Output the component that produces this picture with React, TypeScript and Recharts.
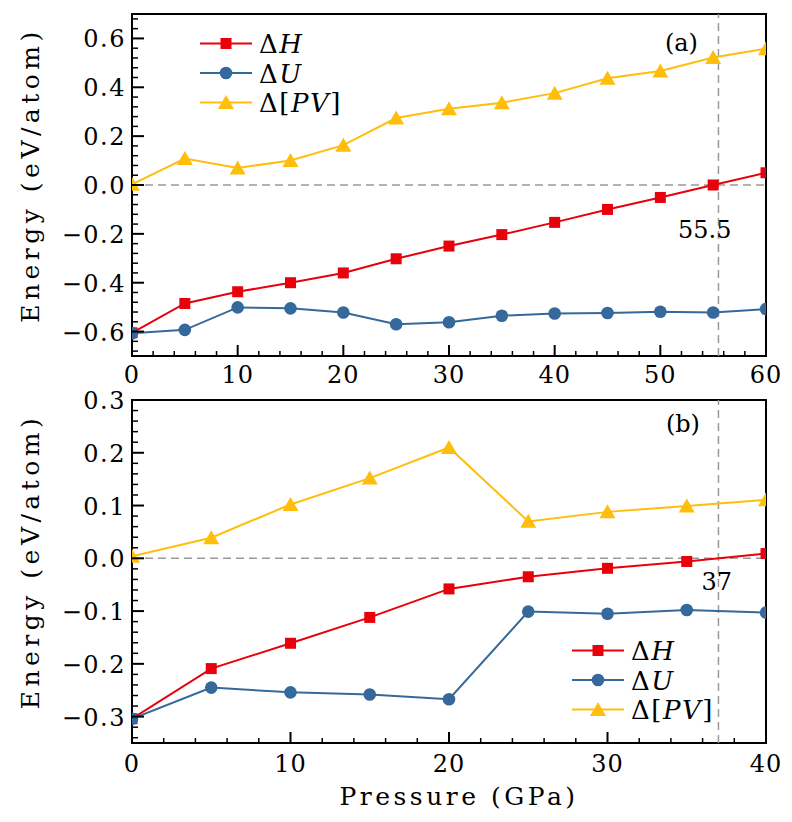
import { Legend, Line, LineChart, ReferenceArea, ReferenceDot, ReferenceLine, XAxis, YAxis } from "recharts";

// panel (a)
const pressureA = [0, 5, 10, 15, 20, 25, 30, 35, 40, 45, 50, 55, 60];
const dHa = [-0.605, -0.485, -0.437, -0.4, -0.36, -0.302, -0.25, -0.203, -0.153, -0.1, -0.051, 0.0, 0.05];
const dUa = [-0.607, -0.593, -0.501, -0.505, -0.522, -0.57, -0.562, -0.535, -0.526, -0.524, -0.519, -0.522, -0.508];
const dPVa = [0.003, 0.108, 0.07, 0.1, 0.163, 0.274, 0.312, 0.337, 0.376, 0.437, 0.467, 0.522, 0.558];

// panel (b)
const pressureB = [0, 5, 10, 15, 20, 25, 30, 35, 40];
const dHb = [-0.304, -0.209, -0.161, -0.112, -0.058, -0.035, -0.019, -0.006, 0.009];
const dUb = [-0.304, -0.245, -0.254, -0.258, -0.267, -0.101, -0.105, -0.098, -0.103];
const dPVb = [0.004, 0.039, 0.102, 0.152, 0.21, 0.07, 0.088, 0.099, 0.111];

const xMajorA = [0, 10, 20, 30, 40, 50, 60];
const xMajorB = [0, 10, 20, 30, 40];
const yMajorA = [-0.6, -0.4, -0.2, 0.0, 0.2, 0.4, 0.6];
const yMajorB = [-0.3, -0.2, -0.1, 0.0, 0.1, 0.2, 0.3];

const RED = "#e8000b";
const BLUE = "#35689b";
const YELLOW = "#ffbe0b";
const FONT = "DejaVu Serif";

const series = [
  { key: "dH", color: RED, kind: "square", label: [["Δ", false], ["H", true]] },
  { key: "dU", color: BLUE, kind: "circle", label: [["Δ", false], ["U", true]] },
  { key: "dPV", color: YELLOW, kind: "triangle", label: [["Δ[", false], ["PV", true], ["]", false]] },
];

const tableA = pressureA.map((p, i) => ({ p, dH: dHa[i], dU: dUa[i], dPV: dPVa[i] }));
const tableB = pressureB.map((p, i) => ({ p, dH: dHb[i], dU: dUb[i], dPV: dPVb[i] }));

// minor ticks between the majors
const withMinor = (major: number[], n: number, lo: number, hi: number) => {
  const step = (major[1] - major[0]) / n;
  const out: number[] = [];
  const k0 = Math.ceil((lo - major[0]) / step - 1e-6);
  const k1 = Math.floor((hi - major[0]) / step + 1e-6);
  for (let k = k0; k <= k1; k++) out.push(+(major[0] + k * step).toFixed(4));
  return out;
};

const isMajor = (v: number, list: number[]) => list.some((m) => Math.abs(m - v) < 1e-6);
const fmtY = (v: number) => (v < -1e-9 ? "\u2212" : "") + Math.abs(v).toFixed(1);

const Marker = ({ cx, cy, kind, color }: any) => {
  if (cx == null || cy == null) return <g />;
  if (kind === "square") return <rect x={cx - 5.5} y={cy - 5.5} width={11} height={11} fill={color} />;
  if (kind === "circle") return <circle cx={cx} cy={cy} r={6.3} fill={color} />;
  return <polygon points={`${cx},${cy - 7.5} ${cx - 8},${cy + 6.5} ${cx + 8},${cy + 6.5}`} fill={color} />;
};

const YTick = ({ x, y, payload, majors }: any) => {
  const v = payload.value;
  const major = isMajor(v, majors);
  return (
    <g>
      <line x1={x} x2={x + (major ? 12 : 6)} y1={y} y2={y} stroke="#000" strokeWidth={major ? 2 : 1.5} />
      {major && (
        <text x={x - 6} y={y + 9} textAnchor="end" fontFamily={FONT} fontSize={24} letterSpacing={1.5} fill="#000">
          {fmtY(v)}
        </text>
      )}
    </g>
  );
};

const XTick = ({ x, y, payload, majors, dy }: any) => {
  const v = payload.value;
  const major = isMajor(v, majors);
  return (
    <g>
      <line x1={x} x2={x} y1={y} y2={y - (major ? 11 : 5)} stroke="#000" strokeWidth={major ? 2 : 1.5} />
      {major && (
        <text x={x} y={y + dy} textAnchor="middle" fontFamily={FONT} fontSize={24} letterSpacing={1} fill="#000">
          {v}
        </text>
      )}
    </g>
  );
};

const LegendBox = ({ payload }: any) => {
  const keys = (payload || []).map((it: any) => it.dataKey);
  const rows = series.filter((s) => keys.length === 0 || keys.includes(s.key));
  return (
    <svg width={200} height={100}>
      {rows.map((s, i) => {
        const cy = 23.5 + i * 29.5;
        return (
          <g key={s.key}>
            <line x1={5} x2={57} y1={cy} y2={cy} stroke={s.color} strokeWidth={2} />
            <Marker cx={31} cy={cy} kind={s.kind} color={s.color} />
            <text x={64} y={cy + 9.5} fontFamily={FONT} fontSize={26} letterSpacing={1.5} fill="#000">
              {s.label.map(([t, it]: any, j: number) => (
                <tspan key={j} fontStyle={it ? "italic" : "normal"}>{t}</tspan>
              ))}
            </text>
          </g>
        );
      })}
    </svg>
  );
};

type PanelProps = {
  data: any[];
  height: number;
  top: number;
  xAxisHeight: number;
  xMax: number;
  xMajors: number[];
  yDomain: [number, number];
  yMajors: number[];
  tickDy: number;
  cross: number;
  crossLabel: { x: number; y: number; text: string };
  tag: { x: number; y: number; text: string };
  legendPos: { left: number; top: number };
  showXLabel: boolean;
  style?: React.CSSProperties;
};

const Panel = (p: PanelProps) => {
  const xTicks = withMinor(p.xMajors, 5, 0, p.xMax);
  const yTicks = withMinor(p.yMajors, 5, p.yDomain[0], p.yDomain[1]);
  return (
    <LineChart
      width={792}
      height={p.height}
      data={p.data}
      margin={{ top: p.top, right: 26, left: 0, bottom: 0 }}
      style={p.style}
    >
      <XAxis
        dataKey="p"
        type="number"
        domain={[0, p.xMax]}
        allowDataOverflow
        ticks={xTicks}
        interval={0}
        height={p.xAxisHeight}
        tickSize={0}
        tickMargin={0}
        tickLine={false}
        axisLine={false}
        tick={(t: any) => <XTick {...t} majors={p.xMajors} dy={p.tickDy} />}
        label={
          p.showXLabel
            ? {
                content: ({ viewBox }: any) => (
                  <text
                    x={viewBox.x + viewBox.width / 2 + 10}
                    y={viewBox.y + 62}
                    textAnchor="middle"
                    fontFamily={FONT}
                    fontSize={25}
                    letterSpacing={3.5}
                    fill="#000"
                  >
                    Pressure (GPa)
                  </text>
                ),
              }
            : undefined
        }
      />
      <YAxis
        type="number"
        domain={p.yDomain}
        allowDataOverflow
        ticks={yTicks}
        interval={0}
        width={132}
        tickSize={0}
        tickMargin={0}
        tickLine={false}
        axisLine={false}
        tick={(t: any) => <YTick {...t} majors={p.yMajors} />}
        label={{
          content: ({ viewBox }: any) => {
            const cx = 30;
            const cy = viewBox.y + viewBox.height / 2 - 10;
            return (
              <text
                x={cx}
                y={cy}
                transform={`rotate(-90, ${cx}, ${cy})`}
                textAnchor="middle"
                dominantBaseline="central"
                fontFamily={FONT}
                fontSize={25}
                letterSpacing={4.5}
                fill="#000"
              >
                Energy (eV/atom)
              </text>
            );
          },
        }}
      />
      <ReferenceLine y={0} stroke="#999" strokeWidth={1.5} strokeDasharray="8 5" />
      <ReferenceLine x={p.cross} stroke="#999" strokeWidth={1.5} strokeDasharray="8 5" />
      {series.map((s) => (
        <Line
          key={s.key}
          type="linear"
          dataKey={s.key}
          stroke={s.color}
          strokeWidth={2}
          dot={(d: any) => <Marker key={`${s.key}-${d.index}`} cx={d.cx} cy={d.cy} kind={s.kind} color={s.color} />}
          activeDot={false}
          isAnimationActive={false}
        />
      ))}
      <ReferenceDot
        x={p.crossLabel.x}
        y={p.crossLabel.y}
        r={0}
        stroke="none"
        label={{ value: p.crossLabel.text, position: "center", fontFamily: FONT, fontSize: 24, fill: "#000" }}
      />
      <ReferenceDot
        x={p.tag.x}
        y={p.tag.y}
        r={0}
        stroke="none"
        label={{ value: p.tag.text, position: "center", fontFamily: FONT, fontSize: 24, fill: "#000" }}
      />
      <ReferenceArea x1={0} x2={p.xMax} y1={p.yDomain[0]} y2={p.yDomain[1]} fill="none" stroke="#000" strokeWidth={2} />
      <Legend
        layout="vertical"
        align="center"
        verticalAlign="middle"
        content={(lp: any) => <LegendBox payload={lp.payload} />}
        wrapperStyle={{ left: p.legendPos.left, top: p.legendPos.top, width: 200, height: 100 }}
      />
    </LineChart>
  );
};

export default function App() {
  return (
    <div style={{ position: "absolute", left: 0, top: 0, width: 792, height: 822, background: "#fff" }}>
      <Panel
        data={tableA}
        height={392}
        top={14}
        xAxisHeight={36}
        xMax={60}
        xMajors={xMajorA}
        yDomain={[-0.7, 0.7]}
        yMajors={yMajorA}
        tickDy={27}
        cross={55.5}
        crossLabel={{ x: 54.2, y: -0.182, text: "55.5" }}
        tag={{ x: 52, y: 0.584, text: "(a)" }}
        legendPos={{ left: 195, top: 20 }}
        showXLabel={false}
      />
      <Panel
        data={tableB}
        height={450}
        top={28}
        xAxisHeight={79}
        xMax={40}
        xMajors={xMajorB}
        yDomain={[-0.35, 0.3]}
        yMajors={yMajorB}
        tickDy={29}
        cross={37}
        crossLabel={{ x: 36.9, y: -0.043, text: "37" }}
        tag={{ x: 34.76, y: 0.256, text: "(b)" }}
        legendPos={{ left: 567, top: 255 }}
        showXLabel={true}
        style={{ marginTop: -20 }}
      />
    </div>
  );
}
